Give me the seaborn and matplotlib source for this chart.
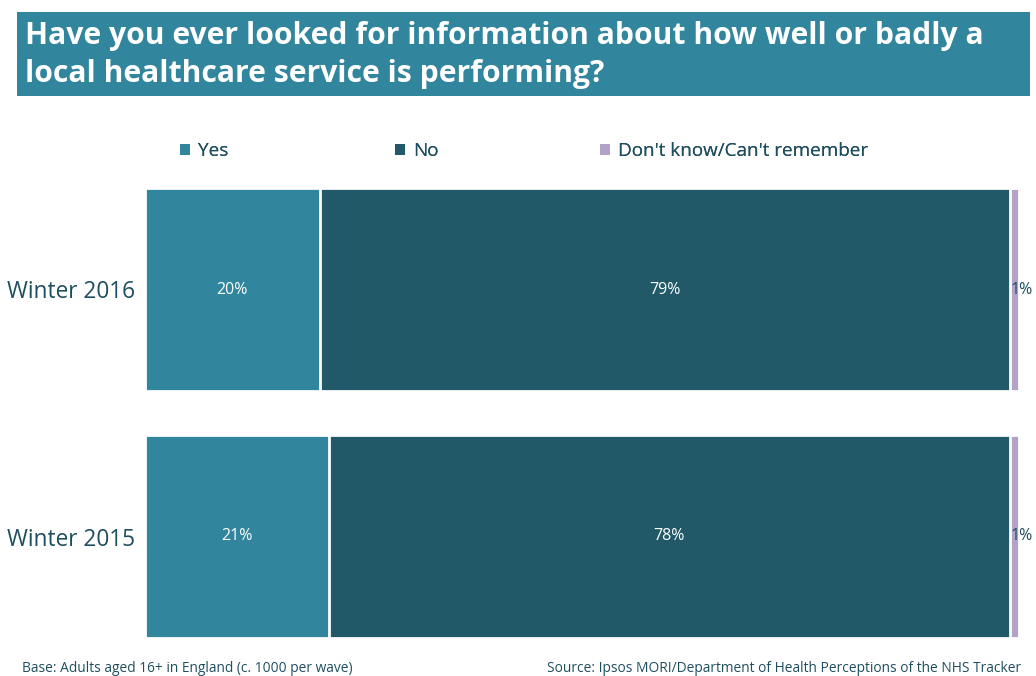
import matplotlib
matplotlib.use("Agg")
import matplotlib.pyplot as plt
from matplotlib.patches import Rectangle, Patch
import seaborn as sns
import pandas as pd

# Survey waves and answer shares (%)
waves = ["Winter 2016", "Winter 2015"]
answers = ["Yes", "No", "Don't know/Can't remember"]
yes_pct = [20, 21]
no_pct = [79, 78]
dk_pct = [1, 1]

colors = {"Yes": "#31859C", "No": "#215968", "Don't know/Can't remember": "#B3A2C7"}
text_dark = "#1F4E5F"

sns.set_theme(style="white")
plt.rcParams["font.family"] = ["Open Sans", "DejaVu Sans"]

fig = plt.figure(figsize=(10.36, 6.76), dpi=100)
W, H = 1036, 676

# Title banner
fig.patches.append(Rectangle((17 / W, 1 - 96 / H), (1030 - 17) / W, (96 - 12) / H,
                             transform=fig.transFigure, facecolor="#31859C",
                             edgecolor="none", zorder=0))
fig.text(25 / W, 1 - 36 / H, "Have you ever looked for information about how well or badly a",
         color="white", fontsize=21.7, fontweight="bold", va="center", ha="left")
fig.text(25 / W, 1 - 74 / H, "local healthcare service is performing?",
         color="white", fontsize=21.7, fontweight="bold", va="center", ha="left")

ax = fig.add_axes([145 / W, 1 - 660 / H, (1019 - 145) / W, (660 - 166) / H])

df = pd.DataFrame({"wave": waves, "Yes": yes_pct, "No": no_pct, "DK": dk_pct})
df["cum_yes"] = df["Yes"]
df["cum_no"] = df["Yes"] + df["No"]
df["cum_dk"] = df["Yes"] + df["No"] + df["DK"]

# Stacked bars: draw the running totals from the longest down
bar_kw = dict(orient="h", width=0.818, edgecolor="white", linewidth=2, ax=ax, saturation=1)
sns.barplot(data=df, x="cum_dk", y="wave", color=colors["Don't know/Can't remember"], **bar_kw)
sns.barplot(data=df, x="cum_no", y="wave", color=colors["No"], **bar_kw)
sns.barplot(data=df, x="cum_yes", y="wave", color=colors["Yes"], **bar_kw)

for i, row in df.iterrows():
    ax.text(row["Yes"] / 2, i, f"{row['Yes']}%", color="white", fontsize=11.5,
            ha="center", va="center")
    ax.text(row["Yes"] + row["No"] / 2, i, f"{row['No']}%", color="white", fontsize=11.5,
            ha="center", va="center")
    ax.text(row["cum_dk"] + 0.3, i, f"{row['DK']}%", color=text_dark, fontsize=11.5,
            ha="center", va="center")

ax.set_xlim(0, 100)
ax.set_ylim(1.5, -0.5)
ax.set_xlabel("")
ax.set_ylabel("")
ax.set_xticks([])
ax.tick_params(axis="y", length=0, pad=7, labelsize=16.3, labelcolor=text_dark)
for s in ax.spines.values():
    s.set_visible(False)

# Legend entries, one per answer
legend_x = [180, 395, 600]
for a, lx in zip(answers, legend_x):
    leg = fig.legend([Patch(facecolor=colors[a], edgecolor="none")], [a],
                     loc="center left", bbox_to_anchor=(lx / W, 1 - 151 / H),
                     frameon=False, handlelength=0.55, handleheight=0.55, handletextpad=0.4,
                     fontsize=13.6, labelcolor=text_dark, borderaxespad=0, borderpad=0)
    fig.add_artist(leg)

fig.text(22 / W, 1 - 668 / H, "Base: Adults aged 16+ in England (c. 1000 per wave)",
         color=text_dark, fontsize=9.9, va="center", ha="left")
fig.text(1021 / W, 1 - 668 / H, "Source: Ipsos MORI/Department of Health Perceptions of the NHS Tracker",
         color=text_dark, fontsize=9.9, va="center", ha="right")

fig.savefig("out.png", dpi=100)
